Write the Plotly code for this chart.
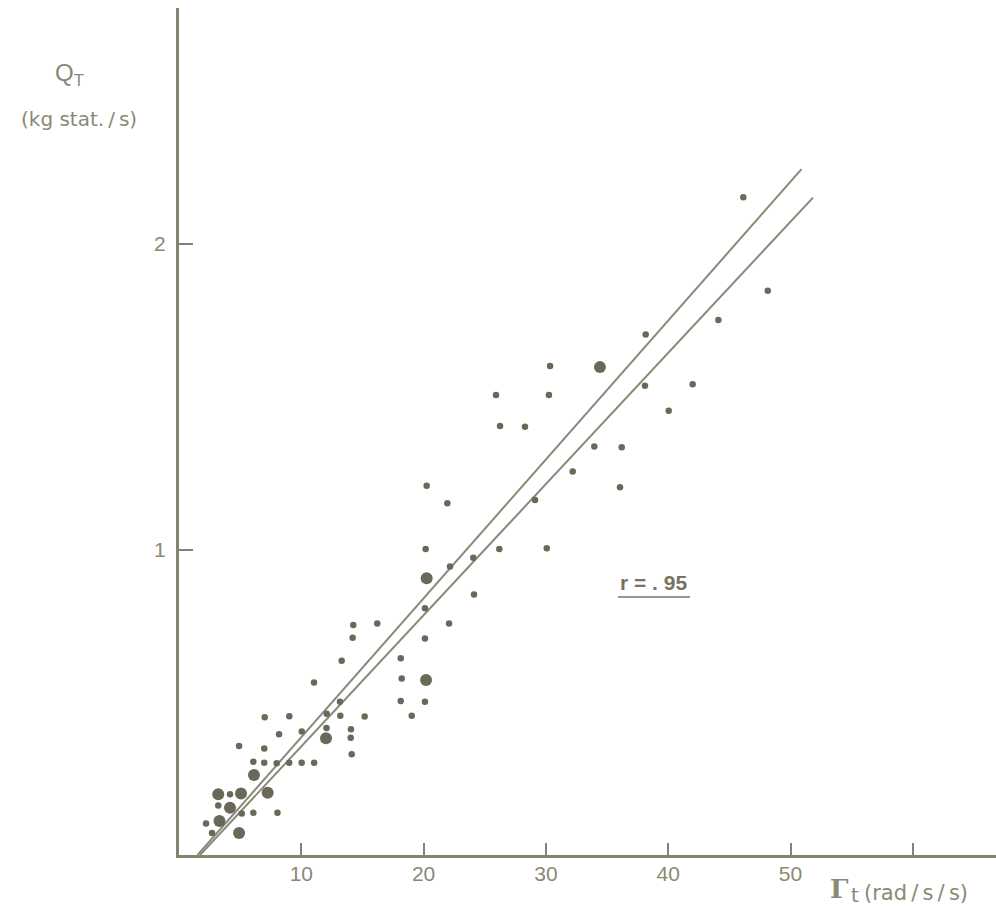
import plotly.graph_objects as go

# Small dots (Γt, QT)
small_x = [11.04, 7.01, 9.02, 12.08, 8.18, 10.04, 12.06, 4.91, 6.97, 6.08, 6.97, 7.99, 9.01, 10.03, 11.05,
           4.17, 3.21, 5.13, 6.08, 8.05, 2.21, 2.70,
           14.25, 16.21, 22.08, 14.20, 20.11, 13.30, 18.13, 18.21, 13.16, 18.13, 20.11, 13.19, 15.18, 19.03,
           14.06, 14.04, 14.12,
           30.34, 25.92, 30.25, 26.25, 28.29, 33.96, 36.20, 32.19, 36.06, 20.25, 21.94, 29.11, 20.17, 26.19,
           30.07, 22.16, 24.06, 24.12, 20.11,
           46.14, 48.14, 44.10, 38.16, 38.10, 42.00, 40.04]
small_y = [0.565, 0.451, 0.454, 0.462, 0.395, 0.404, 0.416, 0.357, 0.349, 0.305, 0.302, 0.300, 0.302, 0.302, 0.302,
           0.199, 0.162, 0.136, 0.138, 0.138, 0.103, 0.072,
           0.753, 0.758, 0.758, 0.711, 0.709, 0.636, 0.644, 0.578, 0.502, 0.504, 0.502, 0.456, 0.453, 0.456,
           0.412, 0.384, 0.330,
           1.601, 1.506, 1.506, 1.404, 1.402, 1.337, 1.335, 1.255, 1.204, 1.209, 1.151, 1.162, 1.002, 1.002,
           1.004, 0.944, 0.973, 0.853, 0.808,
           2.153, 1.847, 1.751, 1.704, 1.536, 1.541, 1.454]

# Large dots
large_x = [12.02, 6.13, 3.21, 5.07, 7.25, 4.17, 3.31, 4.91, 20.20, 20.25, 34.42]
large_y = [0.382, 0.262, 0.199, 0.201, 0.204, 0.155, 0.111, 0.072, 0.573, 0.906, 1.597]

# Two regression lines (end points)
line1_x = [1.52, 50.90]
line1_y = [0.0, 2.245]
line2_x = [1.72, 51.84]
line2_y = [0.0, 2.152]

x_tickvals = [10, 20, 30, 40, 50, 60]
x_ticktext = ["10", "20", "30", "40", "50", ""]
y_tickvals = [1, 2]
y_ticktext = ["1", "2"]

AXIS = "#84836e"
TEXT = "#8a8975"
DOT = "#6a6959"
LINE = "#8a8978"
FONT = "Liberation Sans, Arial, sans-serif"
WIDE = "DejaVu Sans, Verdana, sans-serif"
TS = "\u2009"

fig = go.Figure()
for lx, ly in ((line1_x, line1_y), (line2_x, line2_y)):
    fig.add_trace(go.Scatter(x=lx, y=ly, mode="lines",
                             line=dict(color=LINE, width=2), hoverinfo="skip"))
fig.add_trace(go.Scatter(x=small_x, y=small_y, mode="markers",
                         marker=dict(color=DOT, size=6.5, line=dict(width=0))))
fig.add_trace(go.Scatter(x=large_x, y=large_y, mode="markers",
                         marker=dict(color=DOT, size=12, line=dict(width=0))))

W, H = 996, 909
L, R, T, B = 179, 0, 8, 54
pw, ph = W - L - R, H - T - B


def px(x):
    return (x - L) / pw


def py(y):
    return (H - B - y) / ph


fig.update_layout(
    width=W, height=H,
    margin=dict(l=L, r=R, t=T, b=B),
    paper_bgcolor="white", plot_bgcolor="white",
    showlegend=False,
    font=dict(family=FONT, color=TEXT, size=21),
    xaxis=dict(range=[0, pw / 12.23], showgrid=False, zeroline=False,
               showline=True, linecolor=AXIS, linewidth=3,
               ticks="inside", ticklen=12, tickwidth=1.5, tickcolor=AXIS,
               tickvals=x_tickvals, ticktext=x_ticktext,
               tickfont=dict(size=21, color=TEXT, family=FONT),
               ticklabelstandoff=-2),
    yaxis=dict(range=[0, ph / 305.5], showgrid=False, zeroline=False,
               showline=True, linecolor=AXIS, linewidth=3,
               ticks="inside", ticklen=14, tickwidth=2, tickcolor=AXIS,
               tickvals=y_tickvals, ticktext=y_ticktext,
               tickfont=dict(size=21, color=TEXT, family=FONT),
               ticklabelstandoff=6),
)


def note(x, y, text, size, family=FONT, color=TEXT, xanchor="center"):
    fig.add_annotation(xref="paper", yref="paper", x=px(x), y=py(y),
                       xanchor=xanchor, yanchor="middle",
                       text=text, showarrow=False,
                       font=dict(size=size, color=color, family=family))


# Y axis title
note(53, 74, "Q<sub>T</sub>", 24, xanchor="left")
note(79, 119, "(kg stat." + TS + "/" + TS + "s)", 20, family=WIDE)

# X axis title
note(828, 889, "<b>Γ</b>", 26, family="DejaVu Serif, serif", xanchor="left")
note(849, 895, "t", 20, family=WIDE, xanchor="left")
note(862, 893, "(rad" + TS + "/" + TS + "s" + TS + "/" + TS + "s)", 21, family=WIDE, xanchor="left")

# r = .95 label
note(653, 582, "<b>r = . 95</b>", 21, color="#74735f")
fig.add_shape(type="line", xref="paper", yref="paper",
              x0=px(618), x1=px(690), y0=py(597), y1=py(597),
              line=dict(color="#74735f", width=1.5))

fig.write_html("out.html")
